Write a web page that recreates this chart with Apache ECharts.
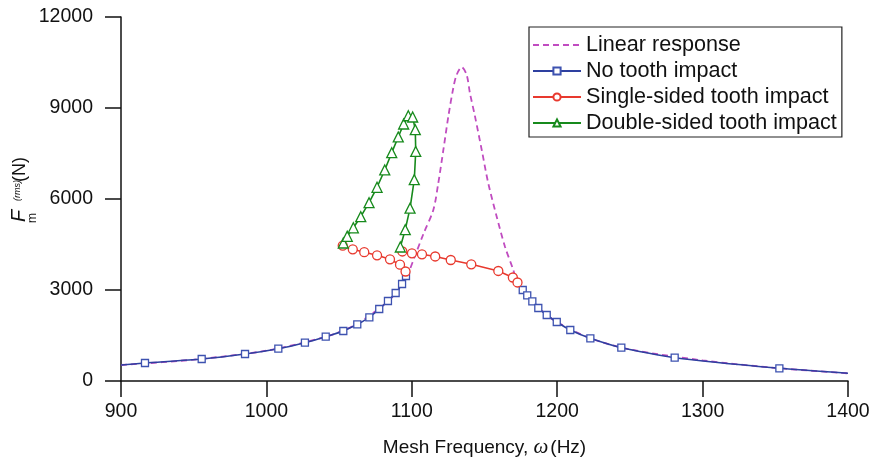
<!DOCTYPE html>
<html>
<head>
<meta charset="utf-8">
<script src="https://cdn.jsdelivr.net/npm/echarts@6/dist/echarts.min.js"></script>
<style>
  html, body { margin: 0; padding: 0; background: #fff; }
  #main { width: 875px; height: 467px; }
</style>
</head>
<body>
<div id="main"></div>
<script>
// axis ticks
var xTicks = [900, 1000, 1100, 1200, 1300, 1400];
var yTicks = [0, 3000, 6000, 9000, 12000];

var seriesNames = ['Linear response', 'No tooth impact', 'Single-sided tooth impact', 'Double-sided tooth impact'];

// linear response (dashed), [Hz, N]
var linearResp = [[900, 527], [950, 705], [1000, 1000], [1040, 1450], [1060, 1820], [1080, 2480], [1090, 2950],
  [1096.5, 3440], [1102, 4100], [1108, 4850], [1114.8, 5638], [1118.2, 6518], [1121.7, 7616], [1125.1, 8714],
  [1128.5, 9650], [1130.8, 10088], [1134.3, 10350], [1137.7, 10100], [1140, 9486], [1143.5, 8714],
  [1148.1, 7616], [1152.6, 6518], [1158.4, 5417], [1164.1, 4428], [1169.8, 3660], [1173, 3165],
  [1180, 2790], [1190, 2290], [1200, 1940], [1222.8, 1408], [1250, 1040], [1300, 680], [1352.8, 419], [1400, 254]];

// no tooth impact: marked points on each branch, plus the unmarked ends of the line
var noImpactLeft = [[916.5, 593], [955.5, 725], [985.3, 890], [1008.2, 1065], [1026.5, 1263], [1040.8, 1461],
  [1052.9, 1648], [1062.5, 1869], [1070.8, 2100], [1077.6, 2374], [1083.6, 2637], [1088.9, 2901],
  [1093.3, 3198], [1096, 3462]];
var noImpactRight = [[1176.3, 3000], [1179.4, 2825], [1182.9, 2628], [1187, 2407], [1192.8, 2176],
  [1199.7, 1945], [1209, 1681], [1222.8, 1408], [1244.1, 1098], [1280.8, 768], [1352.8, 419]];
var noImpactEnds = [[900, 527], [1172.5, 3230], [1400, 254]];

// single-sided tooth impact (two branches)
var singleLower = [[1052.5, 4461], [1059.4, 4342], [1067.3, 4246], [1076.1, 4144], [1085, 4012],
  [1091.9, 3835], [1095.7, 3610]];
var singleUpper = [[1093.5, 4270], [1100.1, 4210], [1107, 4177], [1116.1, 4105], [1126.8, 3989],
  [1140.9, 3848], [1159.5, 3627], [1169.5, 3412], [1172.7, 3248]];

// double-sided tooth impact (loop)
var doubleLoop = [[1052.9, 4550], [1055.6, 4771], [1059.8, 5051], [1064.9, 5417], [1070.6, 5879],
  [1076.1, 6386], [1081.4, 6957], [1086.2, 7527], [1090.7, 8045], [1094.4, 8473], [1097.6, 8744],
  [1100.6, 8704], [1102.4, 8285], [1102.7, 7567], [1101.7, 6637], [1098.8, 5697], [1095.5, 4988],
  [1092.1, 4418]];

var FONT = '"Liberation Sans", Arial, Helvetica, sans-serif';

function plain(p) { return { value: p, symbol: 'none' }; }

var noImpactData = [plain(noImpactEnds[0])].concat(noImpactLeft, [null, plain(noImpactEnds[1])],
  noImpactRight, [plain(noImpactEnds[2])]);
var singleData = singleLower.concat([null], singleUpper);

var myChart = echarts.init(document.getElementById('main'));

var option = {
  animation: false,
  backgroundColor: '#fff',
  grid: { left: 121, right: 27, top: 17, bottom: 86 },
  xAxis: {
    type: 'value',
    min: xTicks[0],
    max: xTicks[xTicks.length - 1],
    interval: 100,
    name: 'Mesh Frequency, {w|ω}(Hz)',
    nameLocation: 'middle',
    nameGap: 56,
    nameTextStyle: {
      fontFamily: FONT, fontSize: 19, color: '#111',
      rich: { w: { fontFamily: '"Liberation Serif", "DejaVu Serif", serif', fontStyle: 'italic', fontSize: 21, color: '#111', padding: [0, 2, 0, 0] } }
    },
    axisLine: { lineStyle: { color: '#111', width: 1.5 } },
    axisTick: { length: 16, lineStyle: { color: '#111', width: 1.5 } },
    axisLabel: { margin: 21, fontFamily: FONT, fontSize: 19.5, color: '#111', formatter: function (v) { return String(v); } },
    splitLine: { show: false }
  },
  yAxis: {
    type: 'value',
    min: yTicks[0],
    max: yTicks[yTicks.length - 1],
    interval: 3000,
    axisLine: { show: true, lineStyle: { color: '#111', width: 1.5 } },
    axisTick: { show: true, length: 16, lineStyle: { color: '#111', width: 1.5 } },
    axisLabel: { margin: 28, fontFamily: FONT, fontSize: 19.5, color: '#111', formatter: function (v) { return String(v); } },
    splitLine: { show: false }
  },
  legend: {
    orient: 'vertical',
    left: 529,
    top: 27,
    padding: [7, 5, 3, 3],
    borderColor: '#222',
    borderWidth: 1.2,
    itemWidth: 48,
    itemHeight: 9,
    itemGap: 4,
    textStyle: { fontFamily: FONT, fontSize: 21.6, lineHeight: 21, color: '#111' },
    data: [
      { name: seriesNames[0], itemStyle: { opacity: 0 } },
      seriesNames[1], seriesNames[2], seriesNames[3]
    ]
  },
  graphic: [
    { type: 'text', x: 19.5, y: 222, rotation: Math.PI / 2,
      style: { text: 'F', font: 'italic 20px ' + FONT, fill: '#111', align: 'left', verticalAlign: 'middle' } },
    { type: 'text', x: 33, y: 223, rotation: Math.PI / 2,
      style: { text: 'm', font: '12px ' + FONT, fill: '#111', align: 'left', verticalAlign: 'middle' } },
    { type: 'text', x: 17.5, y: 201, rotation: Math.PI / 2,
      style: { text: '(rms)', font: 'italic 9px ' + FONT, fill: '#111', align: 'left', verticalAlign: 'middle' } },
    { type: 'text', x: 20, y: 182, rotation: Math.PI / 2,
      style: { text: '(N)', font: '18px ' + FONT, fill: '#111', align: 'left', verticalAlign: 'middle' } }
  ],
  series: [
    {
      name: seriesNames[0],
      type: 'line',
      data: linearResp,
      smooth: 0.3,
      symbol: 'none',
      z: 1,
      lineStyle: { color: '#c04cc0', width: 1.8, type: [6, 4] },
      itemStyle: { color: '#c04cc0' }
    },
    {
      name: seriesNames[1],
      type: 'line',
      data: noImpactData,
      smooth: 0.2,
      connectNulls: false,
      symbol: 'rect',
      symbolSize: 7,
      showAllSymbol: true,
      z: 2,
      lineStyle: { color: '#2e40a0', width: 1.6 },
      itemStyle: { color: '#fff', borderColor: '#3d52b0', borderWidth: 1.3 }
    },
    {
      name: seriesNames[2],
      type: 'line',
      data: singleData,
      connectNulls: false,
      symbol: 'circle',
      symbolSize: 9,
      showAllSymbol: true,
      z: 3,
      lineStyle: { color: '#e8392e', width: 1.6 },
      itemStyle: { color: '#fff', borderColor: '#e8392e', borderWidth: 1.3 }
    },
    {
      name: seriesNames[3],
      type: 'line',
      data: doubleLoop,
      symbol: 'triangle',
      symbolSize: 10,
      showAllSymbol: true,
      z: 4,
      lineStyle: { color: '#178a1c', width: 1.6 },
      itemStyle: { color: '#fff', borderColor: '#178a1c', borderWidth: 1.3 }
    }
  ]
};

myChart.setOption(option);
</script>
</body>
</html>
